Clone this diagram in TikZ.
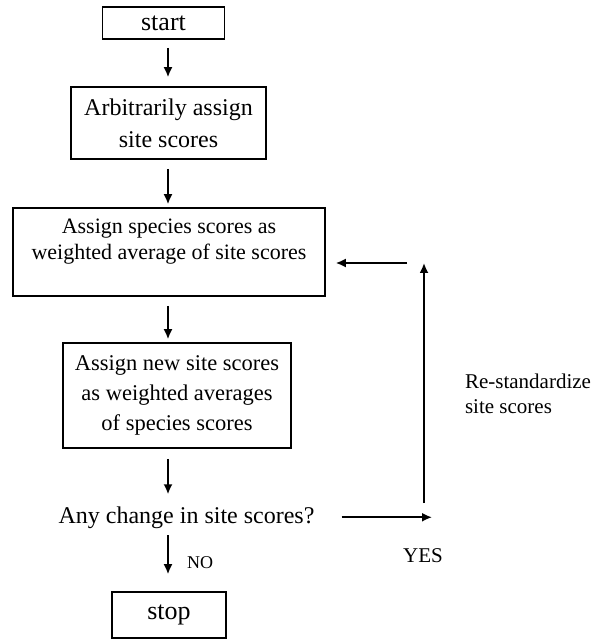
\documentclass[tikz,border=0pt]{standalone}
\usepackage{fontspec}
\setmainfont{Liberation Serif}
\usetikzlibrary{arrows.meta,positioning}
\tikzstyle{box}  = [draw,line width=0.8pt,align=center]
\tikzstyle{flow} = [line width=0.9pt,-{Latex[length=5pt,width=4.5pt]}]
\newcommand{\fsz}[2]{\fontsize{#1}{#2}\selectfont}

\begin{document}
\begin{tikzpicture}
        \useasboundingbox (0,0) rectangle (295.5pt,-320.5pt);
        \coordinate (axis) at (84pt,0);
        % main column
        \node[box, minimum width=61pt, minimum height=16pt, font=\fsz{13}{15}] (start) at (81.75pt,-11.5pt) {start};
        \node[box, minimum width=97.5pt, minimum height=36pt, font=\fsz{12}{16}] (arb) at (84.25pt,-61.5pt) {Arbitrarily assign\\site scores};
        \node[box, minimum width=156pt, minimum height=44pt] (species) at (84.5pt,-126pt) {};
        \node[below=2.5pt of species.north, align=center, font=\fsz{11}{13}] (speciestext) {Assign species scores as\\weighted average of site scores};
        \node[box, minimum width=114pt, minimum height=52.5pt, font=\fsz{11.25}{15}] (newsite) at (88.5pt,-197.75pt) {Assign new site scores\\as weighted averages\\of species scores};
        \node[anchor=base, font=\fsz{12}{14}] (question) at (93.25pt,-261.5pt) {Any change in site scores?};
        \node[box, minimum width=57pt, minimum height=23pt, font=\fsz{13}{15}] (stop) at (84.5pt,-307.5pt) {stop};
        \draw[flow, shorten <=4pt, shorten >=4.5pt] (start.south -| axis) -- (arb.north -| axis);
        \draw[flow, shorten <=4.5pt, shorten >=1.5pt] (arb.south -| axis) -- (species.north -| axis);
        \draw[flow, shorten <=4.5pt, shorten >=1.5pt] (species.south -| axis) -- (newsite.north -| axis);
        \draw[flow, shorten <=5pt, shorten >=2.5pt] (newsite.south -| axis) -- (question.north -| axis);
        \draw[flow, shorten >=8.5pt] (question.south -| axis) -- (stop.north -| axis);
        \node[font=\fsz{9}{11}] (no) at (100pt,-281.5pt) {NO};
        % loop back
        \coordinate (yesend) at (216pt,-259.5pt);
        \coordinate (upbot) at (212pt,-251.5pt);
        \coordinate (uptop) at (212pt,-131.5pt);
        \coordinate (backstart) at (203.5pt,-131.5pt);
        \draw[flow, shorten <=10pt] (question.east) -- (question.east -| yesend);
        \draw[flow] (upbot) -- (uptop);
        \draw[flow, shorten >=5pt] (backstart) -- (backstart -| species.east);
        \node[font=\fsz{10.5}{12}] (yes) at (211.5pt,-278pt) {YES};
        \node[anchor=west, align=left, font=\fsz{10.5}{12.5}] (restd) at (229pt,-197pt) {Re-standardize\\site scores};
\end{tikzpicture}
\end{document}
